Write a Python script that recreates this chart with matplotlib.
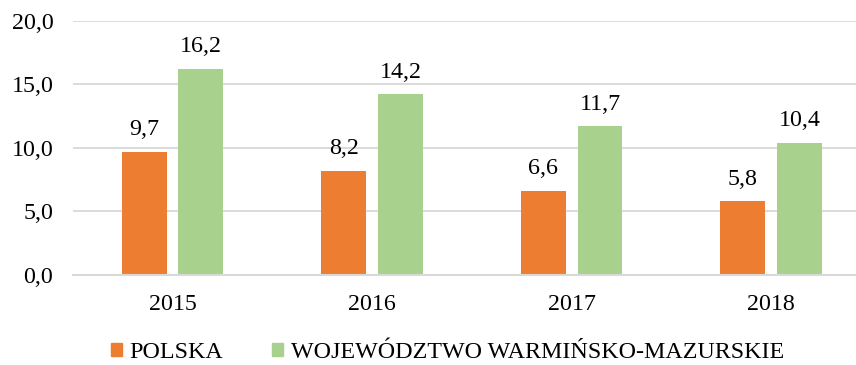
import matplotlib
matplotlib.use("Agg")
import matplotlib.pyplot as plt
from matplotlib.patches import Patch
import numpy as np

years = ["2015", "2016", "2017", "2018"]
polska = [9.7, 8.2, 6.6, 5.8]
warm_maz = [16.2, 14.2, 11.7, 10.4]
series_names = ["POLSKA", "WOJEWÓDZTWO WARMIŃSKO-MAZURSKIE"]
colors = ["#ED7D31", "#A9D18E"]
y_ticks = [0, 5, 10, 15, 20]

plt.rcParams["font.family"] = ["Liberation Serif", "DejaVu Serif"]
FS = 17.3

W, H = 856, 365
fig = plt.figure(figsize=(W / 100, H / 100), dpi=100)
left, right, bottom, top = 72.75, 856, 275, 20.7
ax = fig.add_axes([left / W, (H - bottom) / H, (right - left) / W, (bottom - top) / H])

x = np.arange(len(years))
bw = 0.225
off = 0.142
b1 = ax.bar(x - off, polska, bw, color=colors[0], zorder=3)
b2 = ax.bar(x + off, warm_maz, bw, color=colors[1], zorder=3)

fmt = lambda v: f"{v:.1f}".replace(".", ",")
for bars, vals in ((b1, polska), (b2, warm_maz)):
    for r, v in zip(bars, vals):
        ax.annotate(fmt(v), (r.get_x() + r.get_width() / 2, v), xytext=(0, 12),
                    textcoords="offset points", ha="center", va="baseline", fontsize=FS)

ax.set_ylim(0, 20)
ax.set_xlim(-0.5, 3.5 - 15 / 199.5)
ax.set_yticks(y_ticks)
ax.set_yticklabels([fmt(v) for v in y_ticks], fontsize=FS)
ax.set_xticks(x)
ax.set_xticklabels(years, fontsize=FS)
ax.tick_params(axis="both", length=0)
ax.tick_params(axis="y", pad=14)
ax.tick_params(axis="x", pad=14)
ax.yaxis.grid(True, color="#D9D9D9", linewidth=1.3, zorder=0)
ax.set_axisbelow(True)
for s in ("top", "right", "left"):
    ax.spines[s].set_visible(False)
ax.spines["bottom"].set_color("#D9D9D9")
ax.spines["bottom"].set_linewidth(1.5)
ax.spines["bottom"].set_zorder(4)

handles = [Patch(color=c) for c in colors]
fig.legend(handles, series_names, loc="center", bbox_to_anchor=(447.5 / W, (H - 353) / H),
           ncol=2, frameon=False, fontsize=FS, handlelength=0.46, handleheight=0.46,
           handletextpad=0.3, columnspacing=2.05, borderaxespad=0, borderpad=0)

fig.savefig("out.png", dpi=100)
